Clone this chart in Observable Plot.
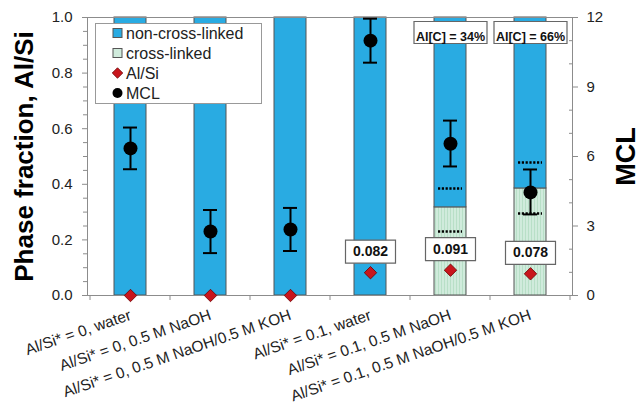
<!DOCTYPE html>
<html><head><meta charset="utf-8">
<script src="https://cdn.jsdelivr.net/npm/d3@7"></script>
<script src="https://cdn.jsdelivr.net/npm/@observablehq/plot@0.6"></script>
<style>
body{margin:0;background:#fff;}
#chart{width:640px;height:406px;}
</style></head><body><div id="chart"></div>
<script>
const categories = [
  "Al/Si* = 0, water",
  "Al/Si* = 0, 0.5 M NaOH",
  "Al/Si* = 0, 0.5 M NaOH/0.5 M KOH",
  "Al/Si* = 0.1, water",
  "Al/Si* = 0.1, 0.5 M NaOH",
  "Al/Si* = 0.1, 0.5 M NaOH/0.5 M KOH"
];
const crossLinked    = [0, 0, 0, 0, 0.317, 0.385];
const nonCrossLinked = [1, 1, 1, 1, 0.683, 0.615];
const alSi           = [0, 0, 0, 0.082, 0.091, 0.078];
const alSiLabels     = ["", "", "", "0.082", "0.091", "0.078"];
const mcl            = [6.35, 2.76, 2.85, 11.0, 6.55, 4.45];
const mclLow         = [5.45, 1.83, 1.92, 10.05, 5.57, 3.50];
const mclHigh        = [7.25, 3.69, 3.78, 11.95, 7.55, 5.44];
const dottedCategories = [categories[4], categories[4], categories[5], categories[5]];
const dottedMcl        = [4.62, 2.76, 5.74, 3.54];
const alcCategories = [categories[4], categories[5]];
const alcPercent    = [34, 66];
const leftTicks      = [0, 0.2, 0.4, 0.6, 0.8, 1];
const leftMinorTicks = [0.05, 0.1, 0.15, 0.25, 0.3, 0.35, 0.45, 0.5, 0.55, 0.65, 0.7, 0.75, 0.85, 0.9, 0.95];
const mclTicks       = [0, 3, 6, 9, 12];
const mclMinorTicks  = [1, 2, 4, 5, 7, 8, 10, 11];
const mclMax = 12;
const legendLabels = ["non-cross-linked", "cross-linked", "Al/Si", "MCL"];
const yTitle = "Phase fraction, Al/Si";
const y2Title = "MCL";

const BLUE = "#29abe2", RED = "#c8161d", GREEN = "#d0ebdc";
const FONT = "'Liberation Sans', Arial, sans-serif";

const rows = categories.map((c, i) => ({
  cat: c, cross: crossLinked[i], non: nonCrossLinked[i], alsi: alSi[i], label: alSiLabels[i],
  mcl: mcl[i] / mclMax, lo: mclLow[i] / mclMax, hi: mclHigh[i] / mclMax
}));
const dotted = dottedCategories.map((c, i) => ({cat: c, v: dottedMcl[i] / mclMax}));
const alcRows = alcCategories.map((c, i) => ({cat: c, v: alcPercent[i]}));

const rectSymbol = (w, h) => ({draw(ctx) { ctx.rect(-w / 2, -h / 2, w, h); }});

const plot = Plot.plot({
  width: 640, height: 406,
  marginLeft: 87, marginRight: 68, marginTop: 17, marginBottom: 111,
  style: {fontFamily: FONT, color: "#222", background: "white"},
  x: {domain: categories, paddingInner: 0.6, paddingOuter: 0.3},
  y: {domain: [0, 1]},
  marks: [
    Plot.barY(rows.filter(d => d.cross > 0), {x: "cat", y1: 0, y2: "cross", fill: "url(#hatch)", stroke: "#555", strokeWidth: 1}),
    Plot.barY(rows, {x: "cat", y1: "cross", y2: d => d.cross + d.non, fill: BLUE, stroke: "#555", strokeWidth: 1}),
    Plot.frame({stroke: "#8c8c8c"}),
    Plot.axisX({tickRotate: -19, tickSize: 0, tickPadding: 19, fontSize: 15.5, label: null}),
    Plot.axisY({anchor: "left", ticks: leftTicks, tickSize: 5, tickPadding: 10, fontSize: 15, label: null, stroke: "#8c8c8c"}),
    Plot.axisY({anchor: "left", ticks: leftMinorTicks, tickSize: 4, tickFormat: () => "", label: null, stroke: "#8c8c8c"}),
    Plot.axisY({anchor: "right", ticks: mclTicks.map(v => v / mclMax), tickFormat: d => String(Math.round(d * mclMax)), tickSize: 5, tickPadding: 9, fontSize: 15, label: null, stroke: "#8c8c8c"}),
    Plot.axisY({anchor: "right", ticks: mclMinorTicks.map(v => v / mclMax), tickFormat: () => "", tickSize: -4, label: null, stroke: "#8c8c8c"}),
    Plot.tickY(dotted, {x: "cat", y: "v", stroke: "black", strokeWidth: 2.5, strokeDasharray: "2.2,1.6", insetLeft: 4, insetRight: 4}),
    Plot.ruleX(rows, {x: "cat", y1: "lo", y2: "hi", stroke: "black", strokeWidth: 2}),
    Plot.tickY(rows, {x: "cat", y: "lo", stroke: "black", strokeWidth: 2, insetLeft: 9, insetRight: 9}),
    Plot.tickY(rows, {x: "cat", y: "hi", stroke: "black", strokeWidth: 2, insetLeft: 9, insetRight: 9}),
    Plot.dot(rows, {x: "cat", y: "mcl", r: 7, fill: "black"}),
    Plot.dot(rows.filter(d => d.label), {x: "cat", y: "alsi", dy: -21, symbol: rectSymbol(50, 23), fill: "white", stroke: "#666", strokeWidth: 1.2}),
    Plot.text(rows.filter(d => d.label), {x: "cat", y: "alsi", dy: -21, text: "label", fontWeight: "bold", fontSize: 14, fill: "#111"}),
    Plot.dot(rows, {x: "cat", y: "alsi", symbol: "diamond2", r: 5.6, fill: RED, stroke: "#6b0000", strokeWidth: 0.8}),
    Plot.dot(alcRows, {x: "cat", frameAnchor: "top", dy: 15, symbol: rectSymbol(73, 22), fill: "white", stroke: "#666", strokeWidth: 1.2}),
    Plot.text(alcRows, {x: "cat", frameAnchor: "top", dy: 15, text: d => `Al[C] = ${d.v}%`, fontWeight: "bold", fontSize: 12.5, fill: "#111", ariaLabel: "alc-label"}),
    Plot.text([yTitle], {frameAnchor: "left", dx: -55, rotate: -90, text: d => d, textAnchor: "middle", fontSize: 26, fontWeight: "bold", lineAnchor: "bottom", fill: "#000"}),
    Plot.text([y2Title], {frameAnchor: "right", dx: 62, rotate: -90, text: d => d, textAnchor: "middle", fontSize: 27, fontWeight: "bold", lineAnchor: "bottom", fill: "#000"})
  ]
});

document.getElementById("chart").appendChild(plot);
const svg = d3.select(plot);

// hatch pattern for cross-linked fill
const defs = svg.insert("defs", ":first-child");
const pat = defs.append("pattern").attr("id", "hatch").attr("width", 3).attr("height", 4).attr("patternUnits", "userSpaceOnUse");
pat.append("rect").attr("width", 3).attr("height", 4).attr("fill", GREEN);
pat.append("rect").attr("width", 1).attr("height", 4).attr("fill", "#b8dfc7");

// subscript in Al[C] labels
svg.selectAll('g[aria-label="alc-label"] text').each(function(_, i) {
  const t = d3.select(this);
  t.text(null);
  t.append("tspan").attr("font-style", "italic").text("Al");
  t.append("tspan").attr("font-style", "italic").attr("font-size", 8.5).attr("dy", 3.5).text("[C]");
  t.append("tspan").attr("dy", -3.5).text(` = ${alcRows[i].v}%`);
});

// category separator ticks on x axis
const xs = plot.scale("x"), ys = plot.scale("y");
const bw = xs.bandwidth;
const centers = categories.map(c => xs.apply(c) + bw / 2);
const step = centers[1] - centers[0];
const y0 = ys.apply(0);
const bounds = centers.map(c => c - step / 2).concat([centers[centers.length - 1] + step / 2]);
svg.append("g").selectAll("line").data(bounds).join("line")
  .attr("x1", d => d).attr("x2", d => d).attr("y1", y0).attr("y2", y0 + 5)
  .attr("stroke", "#8c8c8c");

// legend
const lg = svg.append("g").attr("font-family", FONT).attr("font-size", 16).attr("fill", "#222").attr("text-anchor", "start");
lg.append("rect").attr("x", 95.5).attr("y", 23.5).attr("width", 166).attr("height", 80)
  .attr("fill", "white").attr("stroke", "#999");
legendLabels.forEach((lab, i) => {
  const cy = 33 + i * 20, cx = 117.5;
  if (i === 0) lg.append("rect").attr("x", cx - 4.5).attr("y", cy - 4.5).attr("width", 9).attr("height", 9).attr("fill", BLUE).attr("stroke", "#555");
  if (i === 1) lg.append("rect").attr("x", cx - 4.5).attr("y", cy - 4.5).attr("width", 9).attr("height", 9).attr("fill", GREEN).attr("stroke", "#555");
  if (i === 2) lg.append("path").attr("d", d3.symbol(d3.symbolDiamond2, 70)()).attr("transform", `translate(${cx},${cy})`).attr("fill", RED).attr("stroke", "#6b0000").attr("stroke-width", 0.8);
  if (i === 3) lg.append("circle").attr("cx", cx).attr("cy", cy).attr("r", 5).attr("fill", "black");
  lg.append("text").attr("x", 126).attr("y", cy).attr("dy", "0.35em").text(lab);
});
</script></body></html>
